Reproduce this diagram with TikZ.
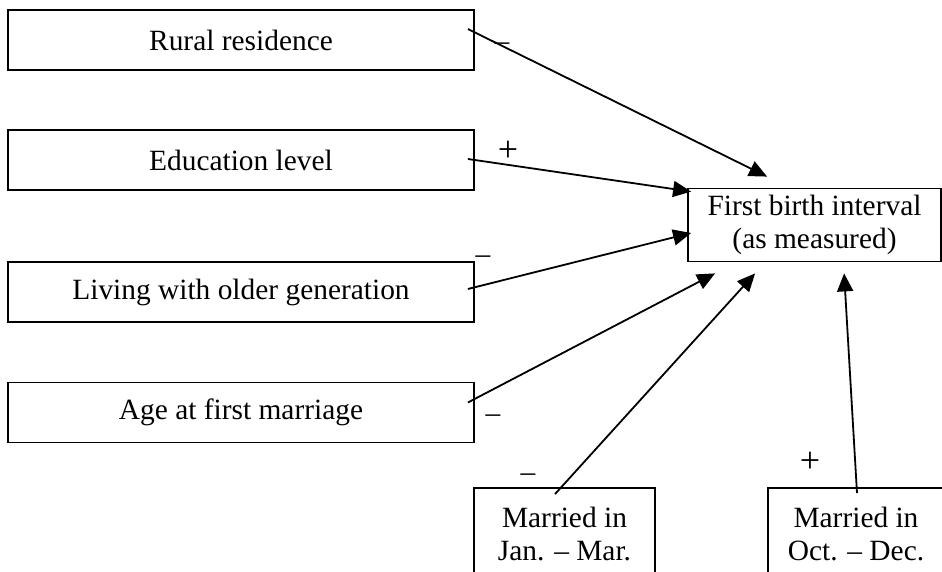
\documentclass[tikz,border=0pt]{standalone}
\usepackage{fontspec}
\setmainfont{Liberation Serif}
\usetikzlibrary{arrows.meta}

\begin{document}
\begin{tikzpicture}[x=0.5pt,y=-0.5pt,>={Triangle[length=9pt,width=8pt]},
  txt/.style={font=\fontsize{14.7}{16.5}\selectfont},
  factor/.style={txt,draw,line width=0.9pt,minimum width=233pt,minimum height=30pt},
  outcome/.style={txt,draw,line width=0.9pt,align=center,minimum width=126.5pt,minimum height=36pt},
  season/.style={txt,draw,line width=0.9pt,align=center,minimum height=46pt},
  sign/.style={txt,inner sep=0pt},
  plus/.style={font=\fontsize{18}{20}\selectfont,inner sep=0pt},
  link/.style={->,line width=0.9pt}]
\useasboundingbox (0,0) rectangle (942,572);
\clip (0,0) rectangle (942,572);
% explanatory factors
\node[factor] (rural) at (241,40) {Rural residence};
\node[factor] (educ) at (241,160) {Education level};
\node[factor] (living) at (241,292) {Living with older generation};
\node[factor] (age) at (241,412.5) {Age at first marriage};
\node[outcome] (fbi) at (814.5,225) {First birth interval\\(as measured)};
% month of marriage (boxes run off the page)
\node[season,minimum width=90.5pt] (jan) at (564.5,534) {Married in\\Jan. -- Mar.};
\node[season,minimum width=88pt] (oct) at (856,534) {Married in\\Oct. -- Dec.};
% effects
\draw[link] ([shift={(-3.5pt,5.5pt)}]rural.east) -- ([shift={(40pt,5.5pt)}]fbi.north west);
\draw[link] ([shift={(-3.5pt,0.5pt)}]educ.east) -- ([shift={(2pt,-2pt)}]fbi.north west);
\draw[link] ([shift={(-3.5pt,1.5pt)}]living.east) -- ([shift={(2pt,-4pt)}]fbi.west);
\draw[link] ([shift={(-3.5pt,5pt)}]age.east) -- ([shift={(14pt,-5.5pt)}]fbi.south west);
\draw[link] ([shift={(-4.75pt,-3.5pt)}]jan.north) -- ([shift={(34pt,-5.5pt)}]fbi.south west);
\draw[link] ([shift={(0.5pt,-3pt)}]oct.north) -- ([shift={(78.5pt,-5.5pt)}]fbi.south west);
% signs
\node[sign] (srural) at (502,47) {--};
\node[plus] (seduc) at (508,151) {+};
\node[sign] (sliving) at (483,260) {--};
\node[sign] (sage) at (493,419) {--};
\node[sign] (sjan) at (528,478) {--};
\node[plus] (soct) at (810,462) {+};
\end{tikzpicture}
\end{document}
